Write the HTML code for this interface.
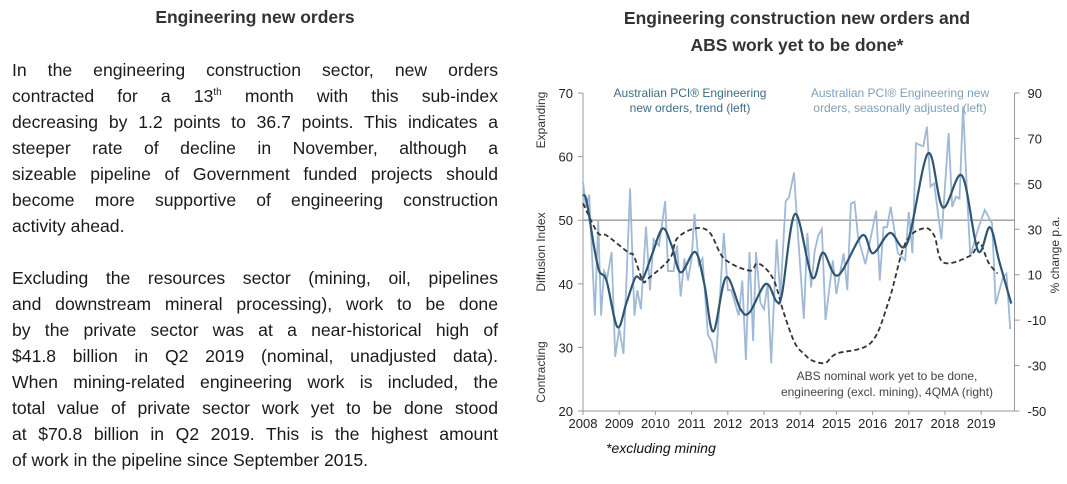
<!DOCTYPE html>
<html><head><meta charset="utf-8">
<style>
html,body{margin:0;padding:0;background:#fff;width:1067px;height:484px;overflow:hidden;font-family:"Liberation Sans",Arial,sans-serif;}
#left{position:absolute;left:12px;top:0;width:486px;}
#left h2{margin:0;position:absolute;top:7px;left:0;width:486px;text-align:center;font-size:17.5px;font-weight:bold;color:#333;}
.ln{position:absolute;left:0;width:486px;font-size:17.6px;color:#1a1a1a;text-align:justify;text-align-last:justify;white-space:nowrap;line-height:20px;}
.last{text-align-last:left;}
sup{font-size:10px;line-height:0;}
</style></head><body>
<div id="left">
<h2>Engineering new orders</h2>
<div>
<div class="ln" style="top:60px">In the engineering construction sector, new orders</div>
<div class="ln" style="top:86px">contracted for a 13<sup>th</sup> month with this sub-index</div>
<div class="ln" style="top:112px">decreasing by 1.2 points to 36.7 points. This indicates a</div>
<div class="ln" style="top:138px">steeper rate of decline in November, although a</div>
<div class="ln" style="top:164px">sizeable pipeline of Government funded projects should</div>
<div class="ln" style="top:190px">become more supportive of engineering construction</div>
<div class="ln last" style="top:216px">activity ahead.</div>
</div>
<div>
<div class="ln" style="top:268px">Excluding the resources sector (mining, oil, pipelines</div>
<div class="ln" style="top:294px">and downstream mineral processing), work to be done</div>
<div class="ln" style="top:320px">by the private sector was at a near-historical high of</div>
<div class="ln" style="top:346px">$41.8 billion in Q2 2019 (nominal, unadjusted data).</div>
<div class="ln" style="top:372px">When mining-related engineering work is included, the</div>
<div class="ln" style="top:398px">total value of private sector work yet to be done stood</div>
<div class="ln" style="top:424px">at $70.8 billion in Q2 2019. This is the highest amount</div>
<div class="ln last" style="top:450px">of work in the pipeline since September 2015.</div>
</div>
</div>

<svg id="chart" width="1067" height="484" style="position:absolute;left:0;top:0" font-family="Liberation Sans, Arial, sans-serif">
<text x="797" y="24" text-anchor="middle" font-size="17.5" font-weight="bold" fill="#333">Engineering construction new orders and</text>
<text x="797" y="51" text-anchor="middle" font-size="17.5" font-weight="bold" fill="#333">ABS work yet to be done*</text>
<g id="axes"></g>
<g id="series"></g>
<text x="690" y="97" text-anchor="middle" font-size="12" fill="#3d6c86">Australian PCI® Engineering</text>
<text x="690" y="112" text-anchor="middle" font-size="12" fill="#3d6c86">new orders, trend (left)</text>
<text x="900" y="97" text-anchor="middle" font-size="12" fill="#7f9fbc">Australian PCI® Engineering new</text>
<text x="900" y="112" text-anchor="middle" font-size="12" fill="#7f9fbc">orders, seasonally adjusted (left)</text>
<text x="887" y="380" text-anchor="middle" font-size="12" fill="#444">ABS nominal work yet to be done,</text>
<text x="887" y="396" text-anchor="middle" font-size="12" fill="#444">engineering (excl. mining), 4QMA (right)</text>
<text transform="translate(545,120) rotate(-90)" text-anchor="middle" font-size="12" fill="#333">Expanding</text>
<text transform="translate(545,252) rotate(-90)" text-anchor="middle" font-size="12" fill="#333">Diffusion Index</text>
<text transform="translate(545,372) rotate(-90)" text-anchor="middle" font-size="12" fill="#333">Contracting</text>
<text transform="translate(1059,255) rotate(-90)" text-anchor="middle" font-size="12" fill="#333">% change p.a.</text>
<text x="606" y="453" font-size="14" font-style="italic" fill="#111">*excluding mining</text>
</svg>
<script>
const years=[2008,2009,2010,2011,2012,2013,2014,2015,2016,2017,2018,2019];
const leftTicks=[20,30,40,50,60,70];
const rightTicks=[-50,-30,-10,10,30,50,70,90];
const trendT=[2008.0,2008.1,2008.3,2008.45,2008.65,2008.95,2009.2,2009.45,2009.65,2009.9,2010.2,2010.45,2010.7,2011.1,2011.35,2011.6,2011.95,2012.35,2012.6,2013.05,2013.35,2013.5,2013.86,2014.33,2014.63,2015.04,2015.71,2016.01,2016.48,2016.95,2017.53,2017.94,2018.47,2018.91,2019.24,2019.5,2019.83];
const trendV=[54,53,46,42,40.5,33.2,37,41,40.8,44.5,48.7,46,41.8,45,40,32.5,41,36,35.5,40,37.2,38.5,51,41,44.9,41.3,47.6,44.8,48,46.3,60.5,52,57,45.2,48.9,43.5,36.9];
const saT=[2008.0,2008.08,2008.17,2008.33,2008.42,2008.5,2008.58,2008.67,2008.79,2008.89,2009.0,2009.12,2009.3,2009.42,2009.5,2009.6,2009.74,2009.85,2009.95,2010.1,2010.27,2010.35,2010.5,2010.6,2010.7,2010.8,2010.9,2011.0,2011.08,2011.2,2011.3,2011.45,2011.55,2011.67,2011.89,2012.0,2012.1,2012.2,2012.3,2012.4,2012.5,2012.6,2012.7,2012.78,2012.9,2013.0,2013.1,2013.2,2013.35,2013.45,2013.6,2013.69,2013.83,2013.93,2014.1,2014.2,2014.3,2014.4,2014.5,2014.6,2014.7,2014.9,2015.0,2015.2,2015.3,2015.4,2015.5,2015.6,2015.8,2016.1,2016.2,2016.3,2016.4,2016.5,2016.7,2016.9,2017.0,2017.1,2017.2,2017.4,2017.5,2017.6,2017.7,2017.9,2018.1,2018.2,2018.3,2018.4,2018.5,2018.6,2018.7,2018.9,2019.1,2019.3,2019.4,2019.6,2019.7,2019.8];
const saV=[56,52,54,35,50,35,42,41,45,28.5,33,29,55,35,39,36,49,39,47,46,53,42,42,46,38,44,40.5,44,51,43,44,32,31,27.5,48,39,39,37,35,40.5,28,45,31,45,37,36,40,27.5,47,38,53,53.6,57.5,48.4,34.5,48,39.4,45.2,47.6,48.6,34.3,43.7,38.4,44.8,39,52.6,52.9,47.3,43.1,51.5,40.5,48.9,48.9,52.1,44.8,43.7,51.3,44.8,62.1,61.6,64.7,55.3,55.8,47,63.7,52.1,53.7,53.4,67.9,55.3,44.3,48.4,51.6,49.5,36.8,41,41.6,32.9];
const absT=[2008.0,2008.4,2008.65,2009.25,2009.4,2009.65,2009.8,2010.4,2010.6,2011.1,2011.5,2011.9,2012.6,2012.8,2013.05,2013.3,2013.55,2013.85,2014.1,2014.35,2014.7,2015.0,2015.95,2016.45,2016.9,2017.4,2017.7,2017.95,2018.7,2018.95,2019.2,2019.45];
const absV=[41.4,28.6,27.3,19.8,18.4,7.4,8.3,17.1,26,30.4,28.6,17.1,11.8,14.9,12.7,6.5,-7,-20,-24.8,-27.9,-28.8,-24.8,-20,-1.4,23.7,30.4,27.3,15.4,18.4,24.2,15.4,10.5];

const X0=583,PX=36.2,YB=411,YT=93;
function x(t){return X0+(t-2008)*PX;}
function yl(v){return YB-(v-20)/50*(YB-YT);}
function yr(v){return YB-(v+50)/140*(YB-YT);}
const NS='http://www.w3.org/2000/svg';
function mk(tag,attrs,parent){const e=document.createElementNS(NS,tag);for(const k in attrs)e.setAttribute(k,attrs[k]);parent.appendChild(e);return e;}
const ax=document.getElementById('axes'),sr=document.getElementById('series');
const XR=x(2019.92);
let e;
e=mk('line',{x1:X0,y1:YT,x2:X0,y2:YB,stroke:'#999','stroke-width':1},ax);


e=mk('line',{x1:X0,y1:YB,x2:XR,y2:YB,stroke:'#999','stroke-width':1},ax);


e=mk('line',{x1:XR,y1:YT,x2:XR,y2:YB,stroke:'#999','stroke-width':1},ax);


e=mk('line',{x1:X0,y1:yl(50),x2:XR,y2:yl(50),stroke:'#999','stroke-width':1.3},ax);


leftTicks.forEach(v=>{
 mk('line',{x1:X0-5,y1:yl(v),x2:X0,y2:yl(v),stroke:'#999'},ax);
 const t=mk('text',{x:X0-10,y:yl(v)+5,'text-anchor':'end','font-size':13,fill:'#222'},ax);t.textContent=v;
 
 
});
rightTicks.forEach(v=>{
 mk('line',{x1:XR,y1:yr(v),x2:XR+5,y2:yr(v),stroke:'#999'},ax);
 const t=mk('text',{x:XR+13,y:yr(v)+5,'font-size':13,fill:'#222'},ax);t.textContent=v;
 
 
});
years.forEach(yv=>{
 mk('line',{x1:x(yv),y1:YB,x2:x(yv),y2:YB+4,stroke:'#999'},ax);
 const t=mk('text',{x:x(yv),y:YB+17,'text-anchor':'middle','font-size':13,fill:'#222'},ax);t.textContent=yv;
 
 
});
function poly(T,V,fy){return T.map((t,i)=>x(t).toFixed(1)+','+fy(V[i]).toFixed(1)).join(' ');}
function smooth(T,V,fy){
 const p=T.map((t,i)=>[x(t),fy(V[i])]);let d='M'+p[0][0]+','+p[0][1];
 for(let i=0;i<p.length-1;i++){const a=p[Math.max(0,i-1)],b=p[i],c=p[i+1],q=p[Math.min(p.length-1,i+2)];
  d+=' C'+(b[0]+(c[0]-a[0])/6)+','+(b[1]+(c[1]-a[1])/6)+' '+(c[0]-(q[0]-b[0])/6)+','+(c[1]-(q[1]-b[1])/6)+' '+c[0]+','+c[1];}
 return d;}
e=mk('polyline',{points:poly(saT,saV,yl),fill:'none',stroke:'#9fb9d6','stroke-width':1.8},sr);


e=mk('path',{d:smooth(absT,absV,yr),fill:'none',stroke:'#333','stroke-width':1.8,'stroke-dasharray':'5,3'},sr);


e=mk('path',{d:smooth(trendT,trendV,yl),fill:'none',stroke:'#2f5671','stroke-width':2.2},sr);


</script>
</body></html>
